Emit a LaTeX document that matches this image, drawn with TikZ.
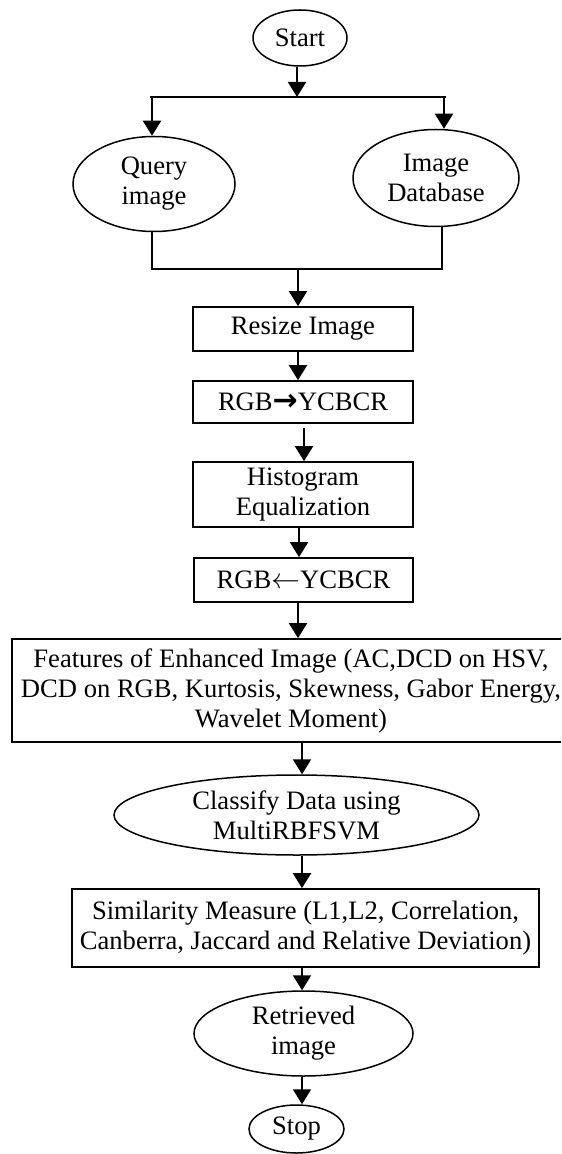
\documentclass[tikz,border=0pt]{standalone}
\usepackage{fontspec}
\setmainfont{Liberation Serif}
\newfontfamily\arrowfont{DejaVu Sans}
\usetikzlibrary{shapes.geometric,arrows.meta}

\begin{document}
\begin{tikzpicture}[x=0.5pt,y=-0.5pt,
  every node/.style={font=\fontsize{13.3}{15}\selectfont, align=center, inner sep=0pt},
  procbox/.style={draw, line width=0.85pt, rectangle},
  term/.style={draw, line width=0.75pt, ellipse},
  arr/.style={line width=1pt, -{Triangle[width=9pt,length=7.5pt]}},
  link/.style={line width=0.7pt}]

\useasboundingbox (0,0) rectangle (561,1154);
\clip (0,0) rectangle (561,1154);

% nodes
\node[term, minimum width=47pt, minimum height=28pt] (start) at (300,38) {Start};
\node[term, minimum width=81pt, minimum height=47.5pt] (query) at (154,184) {Query\\image};
\node[term, minimum width=83pt, minimum height=48.5pt] (db) at (436,178) {Image\\Database};
\node[procbox, minimum width=110pt, minimum height=22pt] (resize) at (303,329) {Resize Image};
\node[procbox, minimum width=110pt, minimum height=21pt] (rgbin) at (303,402)
  {RGB{\arrowfont\bfseries\fontsize{15}{15}\selectfont →}YCBCR};
\node[procbox, minimum width=110pt, minimum height=32.5pt] (hist) at (303,494.5) {Histogram\\Equalization};
\node[procbox, minimum width=109.5pt, minimum height=22pt] (rgbout) at (303.5,580) {RGB$\leftarrow$YCBCR};
\node[procbox, minimum width=279pt, minimum height=51.5pt] (feat) at (291,690.5)
  {Features of Enhanced Image (AC,DCD on HSV,\\DCD on RGB, Kurtosis, Skewness, Gabor Energy,\\Wavelet Moment)};
\node[term, minimum width=182.5pt, minimum height=40pt] (classify) at (296.5,815) {Classify Data using\\MultiRBFSVM};
\node[procbox, minimum width=233.5pt, minimum height=39pt] (sim) at (305.5,928)
  {Similarity Measure (L1,L2, Correlation,\\Canberra, Jaccard and Relative Deviation)};
\node[term, minimum width=109.5pt, minimum height=42.5pt] (retr) at (303.5,1033.5) {Retrieved\\image};
\node[term, minimum width=47.5pt, minimum height=24pt] (stop) at (296.5,1129) {Stop};

% split towards the two inputs
\coordinate (splitL) at (150,97);
\coordinate (splitR) at (446,97);
\coordinate (s0) at (297,97);
\coordinate (qIn) at (152,97);
\coordinate (dIn) at (444,97);
\draw[link] (splitL) -- (splitR);
\draw[arr] (s0 |- start.south) -- (s0);
\draw[arr] (qIn) -- (qIn |- query.north);
\draw[arr] (dIn) -- (dIn |- db.north);

% join of the two inputs
\coordinate (joinL) at (152,269);
\coordinate (joinR) at (442,269);
\coordinate (mIn) at (298,269);
\draw[link] (joinL |- query.south) -- (joinL) -- (joinR) -- (joinR |- db.south);
\draw[arr] (mIn) -- (mIn |- resize.north);

% main chain
\coordinate (x1) at (298,0);
\coordinate (x2) at (304,0);
\coordinate (x3) at (299,0);
\coordinate (x4) at (298,0);
\coordinate (x5) at (302,0);
\draw[arr] (x1 |- resize.south) -- (x1 |- rgbin.north);
\draw[arr] ([yshift=-2pt]x2 |- rgbin.south) -- (x2 |- hist.north);
\draw[arr] (x3 |- hist.south) -- (x3 |- rgbout.north);
\draw[arr] (x4 |- rgbout.south) -- (x4 |- feat.north);
\draw[arr] (x5 |- feat.south) -- (x5 |- classify.north);
\draw[arr] (x5 |- classify.south) -- (x5 |- sim.north);
\draw[arr] (x5 |- sim.south) -- (x5 |- retr.north);
\draw[arr] (x5 |- retr.south) -- (x5 |- stop.north);
\end{tikzpicture}
\end{document}
